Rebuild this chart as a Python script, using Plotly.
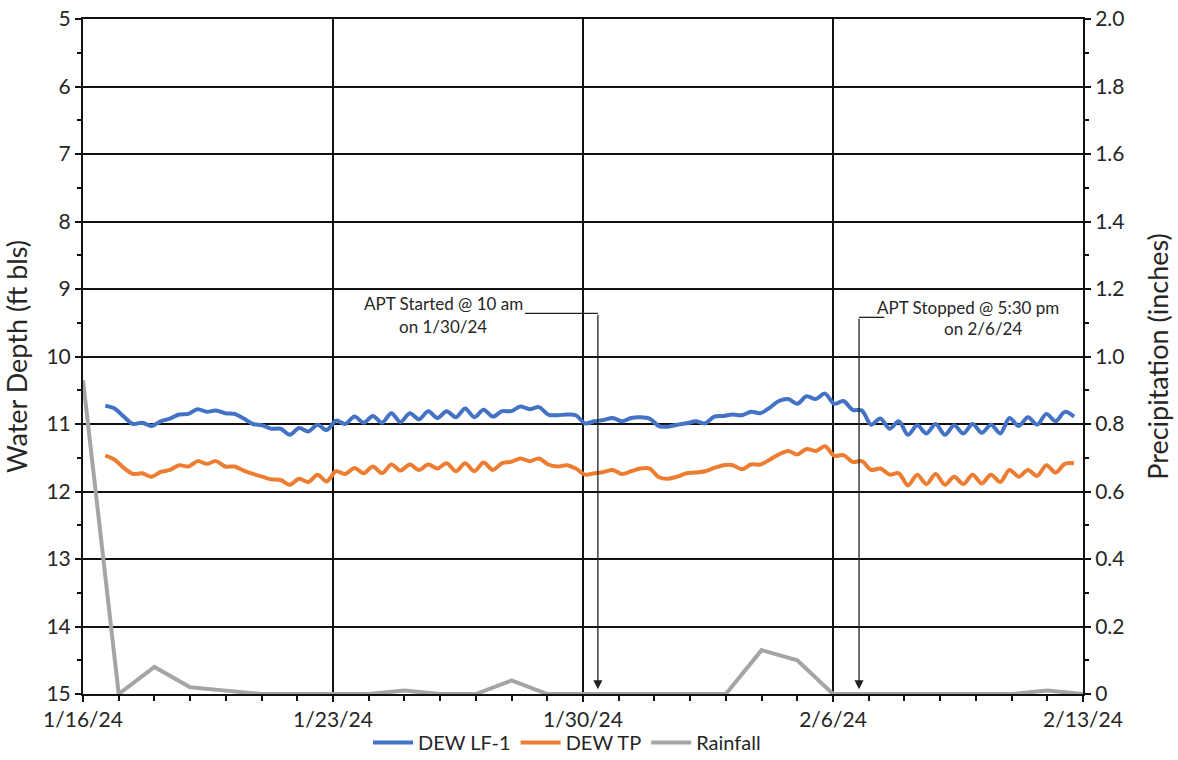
import pandas as pd
import plotly.graph_objects as go

# Logger readings, depth below land surface (ft), one reading every 6 h 12 min
logger_start = "2024-01-16 15:00"
logger_interval = "372min"

dew_lf1 = [
    10.73, 10.77, 10.89, 11.00, 10.98, 11.03, 10.96, 10.92, 10.86, 10.85,
    10.78, 10.82, 10.80, 10.84, 10.85, 10.92, 11.00, 11.02, 11.07, 11.07,
    11.16, 11.06, 11.11, 11.01, 11.09, 10.95, 11.00, 10.89, 10.98, 10.88,
    10.98, 10.84, 10.97, 10.84, 10.93, 10.81, 10.91, 10.81, 10.90, 10.77,
    10.90, 10.79, 10.89, 10.81, 10.81, 10.74, 10.78, 10.75, 10.86, 10.87,
    10.86, 10.87, 10.99, 10.96, 10.94, 10.91, 10.96, 10.91, 10.90, 10.92,
    11.03, 11.04, 11.01, 10.99, 10.96, 10.99, 10.89, 10.88, 10.86, 10.87,
    10.82, 10.84, 10.76, 10.66, 10.63, 10.70, 10.59, 10.63, 10.55, 10.70,
    10.66, 10.79, 10.80, 11.01, 10.92, 11.07, 10.96, 11.16, 11.02, 11.14,
    11.00, 11.16, 11.02, 11.14, 11.00, 11.13, 11.01, 11.14, 10.91, 11.03,
    10.90, 11.01, 10.85, 10.96, 10.82, 10.89,
]

dew_tp = [
    11.47, 11.53, 11.65, 11.74, 11.73, 11.78, 11.71, 11.68, 11.61, 11.63,
    11.55, 11.59, 11.55, 11.63, 11.63, 11.69, 11.74, 11.78, 11.82, 11.83,
    11.90, 11.81, 11.86, 11.75, 11.85, 11.70, 11.74, 11.65, 11.73, 11.63,
    11.73, 11.60, 11.69, 11.60, 11.68, 11.60, 11.66, 11.58, 11.70, 11.58,
    11.70, 11.57, 11.68, 11.58, 11.56, 11.51, 11.55, 11.51, 11.60, 11.63,
    11.61, 11.66, 11.75, 11.73, 11.71, 11.68, 11.74, 11.70, 11.66, 11.66,
    11.79, 11.81, 11.78, 11.73, 11.72, 11.70, 11.65, 11.61, 11.61, 11.67,
    11.60, 11.60, 11.53, 11.45, 11.40, 11.45, 11.37, 11.40, 11.33, 11.47,
    11.46, 11.56, 11.55, 11.68, 11.66, 11.75, 11.73, 11.91, 11.75, 11.89,
    11.74, 11.90, 11.78, 11.89, 11.75, 11.88, 11.75, 11.86, 11.68, 11.78,
    11.68, 11.77, 11.61, 11.72, 11.59, 11.58,
]

# Daily rainfall totals (inches), 1/16/24 through 2/13/24
rain_start = "2024-01-16"
rainfall = [
    0.93, 0.00, 0.08, 0.02, 0.01, 0.00, 0.00, 0.00, 0.00, 0.01,
    0.00, 0.00, 0.04, 0.00, 0.00, 0.00, 0.00, 0.00, 0.00, 0.13,
    0.10, 0.00, 0.00, 0.00, 0.00, 0.00, 0.00, 0.01, 0.00,
]

week_ticks = ["2024-01-16", "2024-01-23", "2024-01-30", "2024-02-06", "2024-02-13"]
week_labels = ["1/16/24", "1/23/24", "1/30/24", "2/6/24", "2/13/24"]
depth_ticks = list(range(5, 16))
precip_ticks = [0, 0.2, 0.4, 0.6, 0.8, 1.0, 1.2, 1.4, 1.6, 1.8, 2.0]
precip_labels = ["0", "0.2", "0.4", "0.6", "0.8", "1.0", "1.2", "1.4", "1.6", "1.8", "2.0"]

apt_start = "2024-01-30 10:00"
apt_stop = "2024-02-06 17:30"

logger_times = pd.date_range(logger_start, periods=len(dew_lf1), freq=logger_interval)
rain_days = pd.date_range(rain_start, periods=len(rainfall), freq="D")

FONT = "Lato"
INK = "#262626"
AXIS = "#111111"

fig = go.Figure()
fig.add_trace(go.Scatter(
    x=logger_times, y=dew_lf1, name="DEW LF-1", mode="lines",
    line=dict(color="#4472C4", width=4, shape="spline", smoothing=0.9),
))
fig.add_trace(go.Scatter(
    x=logger_times, y=dew_tp, name="DEW TP", mode="lines",
    line=dict(color="#ED7D31", width=4, shape="spline", smoothing=0.9),
))
fig.add_trace(go.Scatter(
    x=rain_days, y=rainfall, name="Rainfall", mode="lines", yaxis="y2",
    line=dict(color="#A5A5A5", width=4),
))

# Pumping test markers: elbow leader lines ending in arrows
leader_y_start = 9.36
leader_y_stop = 9.42
arrow_tip = 14.93
fig.add_shape(type="line", x0="2024-01-28 09:00", x1=apt_start, y0=leader_y_start, y1=leader_y_start,
              xref="x", yref="y", line=dict(color="#222", width=1.3))
fig.add_shape(type="line", x0="2024-02-07 10:30", x1=apt_stop, y0=leader_y_stop, y1=leader_y_stop,
              xref="x", yref="y", line=dict(color="#222", width=1.3))
for when, ly in ((apt_start, leader_y_start), (apt_stop, leader_y_stop)):
    fig.add_annotation(x=when, y=arrow_tip, ax=when, ay=ly, xref="x", yref="y",
                       axref="x", ayref="y", text="", showarrow=True,
                       arrowhead=2, arrowsize=1.4, arrowwidth=1.3, arrowcolor="#222")

note_font = dict(family=FONT, size=17, color=INK)
fig.add_annotation(x="2024-01-26 02:00", y=9.21, text="APT Started @ 10 am", showarrow=False,
                   xref="x", yref="y", font=note_font)
fig.add_annotation(x="2024-01-26 02:00", y=9.56, text="on 1/30/24", showarrow=False,
                   xref="x", yref="y", font=note_font)
fig.add_annotation(x="2024-02-09 18:40", y=9.28, text="APT Stopped @ 5:30 pm", showarrow=False,
                   xref="x", yref="y", font=note_font)
fig.add_annotation(x="2024-02-10 05:00", y=9.58, text="on 2/6/24", showarrow=False,
                   xref="x", yref="y", font=note_font)

fig.update_layout(
    width=1178, height=760,
    margin=dict(l=83, r=95, t=19, b=66, autoexpand=False),
    paper_bgcolor="white", plot_bgcolor="white",
    font=dict(family=FONT, color=INK),
    showlegend=True,
    legend=dict(orientation="h", x=0.484, xanchor="center", y=-0.072, yanchor="middle",
                font=dict(family=FONT, size=20, color=INK), itemwidth=40,
                tracegroupgap=0, bgcolor="rgba(0,0,0,0)"),
    xaxis=dict(
        type="date", range=["2024-01-16", "2024-02-13"],
        tickvals=week_ticks, ticktext=week_labels,
        tickfont=dict(family=FONT, size=21, color=INK),
        showgrid=True, gridcolor=AXIS, gridwidth=2,
        showline=True, linecolor=AXIS, linewidth=2, mirror=True,
        ticks="outside", ticklen=6, tickwidth=2, tickcolor=AXIS,
        minor=dict(dtick=86400000, ticks="outside", ticklen=5, tickwidth=2, tickcolor=AXIS,
                   showgrid=False),
        layer="below traces", automargin=False,
    ),
    yaxis=dict(
        range=[15, 5], tickvals=depth_ticks,
        tickfont=dict(family=FONT, size=21, color=INK),
        title=dict(text="Water Depth (ft bls)", font=dict(family=FONT, size=27, color=INK), standoff=12),
        showgrid=True, gridcolor=AXIS, gridwidth=1.5,
        showline=True, linecolor=AXIS, linewidth=2, mirror=True,
        ticks="outside", ticklen=6, tickwidth=2, tickcolor=AXIS,
        minor=dict(dtick=0.5, ticks="outside", ticklen=4, tickwidth=2, tickcolor=AXIS,
                   showgrid=False),
        zeroline=False, layer="below traces", automargin=False,
    ),
    yaxis2=dict(
        range=[0, 2], overlaying="y", side="right",
        tickvals=precip_ticks, ticktext=precip_labels,
        tickfont=dict(family=FONT, size=21, color=INK),
        title=dict(text="Precipitation (inches)", font=dict(family=FONT, size=27, color=INK), standoff=26),
        showgrid=False, showline=True, linecolor=AXIS, linewidth=2,
        ticks="outside", ticklen=6, tickwidth=2, tickcolor=AXIS,
        minor=dict(dtick=0.1, ticks="outside", ticklen=4, tickwidth=2, tickcolor=AXIS),
        zeroline=False, layer="below traces", automargin=False,
    ),
)

fig.write_html("out.html")
